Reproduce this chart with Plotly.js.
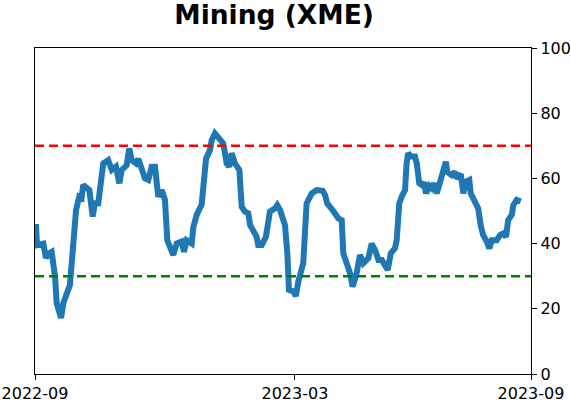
<!DOCTYPE html>
<html>
<head>
<meta charset="utf-8">
<script src="https://cdn.plot.ly/plotly-3.0.1.min.js"></script>
<style>html,body{margin:0;padding:0;background:#fff;}#chart{width:571px;height:402px;}</style>
</head>
<body>
<div id="chart"></div>
<script>
// trading-day index (x) and indicator values (y)
const days = [0.5,1,4.2,5.5,7,8.4,10.1,10.9,13.1,14.3,17.6,19.3,20.7,22.3,23.5,24.3,27.4,29.1,30.2,31.9,33.3,34.4,36.9,38.7,40.8,42.5,43.7,46.2,47.5,48.7,50.9,52.1,55.4,57.1,58.8,60.5,62.1,63.9,65.5,66.7,69.7,71.4,73.9,75.1,76.5,79,79.8,81.5,84,84.8,86.2,88.2,89.1,90.7,92.9,94.9,96.6,97.9,99.1,100.8,103,104.2,105.8,107.5,108.4,110,111.7,112.5,114.3,116.4,117.6,118.4,121,122.1,123.5,125.1,126,127.2,128,130.2,131.5,132.7,135.2,136.9,139.5,142,145,146.2,147.3,150,151.2,152.9,154.6,155.4,157.4,158.8,160.1,162.1,163.8,165.5,168,169.7,171.4,173.1,174.8,176.4,177.8,179.3,181.4,182.3,183.6,184.8,186.5,187.3,188.1,189.5,191.5,192.4,193.7,194.9,196.1,197.1,198.7,199.9,201.1,202.5,204.5,205.8,207.1,207.8,210,211.7,212.5,214.6,215.9,217.2,218.9,219.6,221.3,223.4,224.6,225.9,227.7,229,230.2,232.7,234.4,236,237.4,238.5,240.3,241.1,242.8,244.8];
const values = [46,39.5,40,35.6,37,37.5,29.8,21.8,17.2,21.8,27.3,40,50.3,54.4,54,58,56.4,48.3,52.4,52.4,61,64.6,65.6,62.6,63.6,58.5,62.6,64,69.2,65.6,64.6,66,60,59.5,63.6,63.6,54.4,56.4,53.4,41,36.5,40,40.6,37.5,41,40,45,48.8,52,56.4,66,68.7,71.8,73.8,72,70.7,64.6,63.6,67.7,64.6,62.6,51.3,49.8,49.3,45.7,43.6,42.1,39.6,39.6,42.1,46.2,49.8,50.8,51.8,50.3,46.7,45.7,37,25.8,25.3,23.9,28.3,34,52.3,55.4,56.4,56.2,54.9,52.3,50.3,48.8,47.7,47.2,37,33.4,30.9,26.8,30.9,36.5,34,35.5,40,38,35,35,32.9,31.9,37,38.5,41,52.3,54.4,56.4,64.6,67.7,66.7,66.7,64.6,58.5,58,58.7,55.4,57.7,57,58.5,55.4,59.5,62,65.1,62,61,62,60,61.3,55.4,59,59.5,55.4,53.4,50.8,45.7,42.6,40.6,38.5,41,41,42.6,43.1,42.1,47.2,48.8,51.8,53.4,52.9];
const tickPositions = [0, 131, 250];
const tickLabels = ["2022-09", "2023-03", "2023-09"];
const yTicks = [0, 20, 40, 60, 80, 100];
const thresholds = [70, 30];
const thresholdColors = ["#ff0000", "#008000"];

const font = {family: "DejaVu Sans, sans-serif", size: 16, color: "#000"};

const trace = {
  x: days, y: values, type: "scatter", mode: "lines",
  line: {color: "#1f77b4", width: 6},
  hoverinfo: "skip", showlegend: false
};

const shapes = thresholds.map((t, i) => ({
  type: "line", xref: "paper", x0: 0, x1: 1, yref: "y", y0: t, y1: t,
  line: {color: thresholdColors[i], width: 2.5, dash: "9px,5px"}, layer: "above"
}));

const layout = {
  width: 571, height: 402,
  margin: {l: 35, r: 40, t: 48, b: 28, pad: 0},
  paper_bgcolor: "#fff", plot_bgcolor: "#fff",
  font: font,
  title: {text: "<b>Mining (XME)</b>", font: {family: "DejaVu Sans, sans-serif", size: 26.5, color: "#000"},
          xref: "container", x: 0.48, xanchor: "center", yref: "container", y: 0.963, yanchor: "middle"},
  xaxis: {range: [0, 250], tickmode: "array", tickvals: tickPositions, ticktext: tickLabels,
          showgrid: false, zeroline: false, showline: true, mirror: true, linecolor: "#000", linewidth: 1.2,
          ticks: "outside", ticklen: 5, tickwidth: 1, tickcolor: "#000", tickfont: font},
  yaxis: {range: [0, 100], side: "right", tickmode: "array", tickvals: yTicks,
          showgrid: false, zeroline: false, showline: true, mirror: true, linecolor: "#000", linewidth: 1.2,
          ticks: "outside", ticklen: 5, tickwidth: 1, tickcolor: "#000", tickfont: font},
  shapes: shapes
};

Plotly.newPlot("chart", [trace], layout, {staticPlot: true, displayModeBar: false});
</script>
</body>
</html>
